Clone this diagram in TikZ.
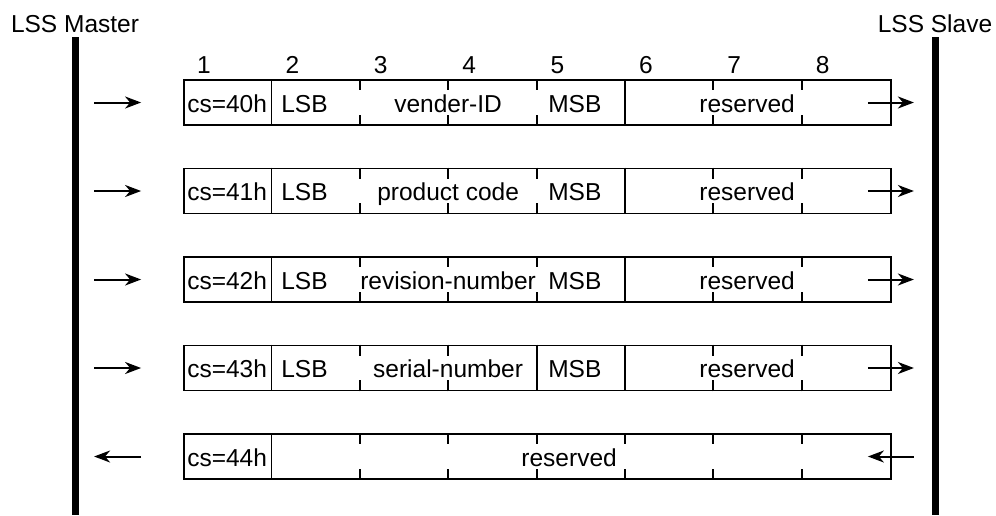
\documentclass[tikz,border=0pt]{standalone}
\usepackage{fontspec}
\setmainfont{Liberation Sans}
\usetikzlibrary{arrows.meta}

\begin{document}
\begin{tikzpicture}
    [
        x=1pt, y=-1pt,
        node distance=88.5pt,
        font=\fontsize{24.5}{29}\selectfont,
        frame/.style={
            draw, rectangle, line width=1.8pt,
            minimum width=707pt, minimum height=45pt, inner sep=0pt
        },
        field/.style={
            anchor=base, yshift=-9.5pt, inner sep=0pt
        },
        msg/.style={
            line width=2pt, -{Stealth[length=16pt, width=12pt, inset=5pt]}
        },
        sep/.style={line width=1.8pt},
        lifeline/.style={line width=7pt}
    ]
\useasboundingbox (0,0) rectangle (996,515);

% Lifelines
\node (master) [anchor=base, inner sep=0pt] at (75,32) {LSS Master};
\node (slave) [anchor=base, inner sep=0pt] at (935,32) {LSS Slave};
\coordinate (master-top) at (75,37);
\coordinate (master-bottom) at (75,515);
\coordinate (slave-top) at (935,37);
\coordinate (slave-bottom) at (935,515);
\draw[lifeline] (master-top) -- (master-bottom);
\draw[lifeline] (slave-top) -- (slave-bottom);

% Frames
\node (row1) [frame] at (537.5,102.5) {};
\node (row2) [frame, below of=row1] {};
\node (row3) [frame, below of=row2] {};
\node (row4) [frame, below of=row3] {};
\node (row5) [frame, below of=row4] {};

% Byte numbers
\foreach \i in {1,...,8}
    \node (byte\i) [anchor=base west, inner sep=0pt] at ({108.6+88.375*\i},73) {\i};

% Byte borders
\foreach \r in {1,2,3} {
    \foreach \k in {1,5}
        \draw[sep] ([xshift=\k*88.375pt]row\r.north west) -- ([xshift=\k*88.375pt]row\r.south west);
    \foreach \k in {2,3,4,6,7}
        \draw[sep] ([xshift=\k*88.375pt]row\r.north west) -- ++(0,11)
                   ([xshift=\k*88.375pt]row\r.south west) -- ++(0,-11);
}
\foreach \k in {1,4,5}
    \draw[sep] ([xshift=\k*88.375pt]row4.north west) -- ([xshift=\k*88.375pt]row4.south west);
\foreach \k in {2,3,6,7}
    \draw[sep] ([xshift=\k*88.375pt]row4.north west) -- ++(0,11)
               ([xshift=\k*88.375pt]row4.south west) -- ++(0,-11);
\draw[sep] ([xshift=88.375pt]row5.north west) -- ([xshift=88.375pt]row5.south west);
\foreach \k in {2,...,7}
    \draw[sep] ([xshift=\k*88.375pt]row5.north west) -- ++(0,11)
               ([xshift=\k*88.375pt]row5.south west) -- ++(0,-11);

% Fields
\node (cs1) [field, anchor=base west] at ([xshift=4pt]row1.west) {cs=40h};
\node (cs2) [field, anchor=base west] at ([xshift=4pt]row2.west) {cs=41h};
\node (cs3) [field, anchor=base west] at ([xshift=4pt]row3.west) {cs=42h};
\node (cs4) [field, anchor=base west] at ([xshift=4pt]row4.west) {cs=43h};
\node (cs5) [field, anchor=base west] at ([xshift=4pt]row5.west) {cs=44h};

\foreach \r in {1,...,4} {
    \node (lsb\r) [field, anchor=base west] at ([xshift=98pt]row\r.west) {LSB};
    \node (msb\r) [field, anchor=base west] at ([xshift=365pt]row\r.west) {MSB};
    \node (res\r) [field] at ([xshift=564pt]row\r.west) {reserved};
}
\node (vendor) [field] at ([xshift=265pt]row1.west) {vender-ID};
\node (product) [field] at ([xshift=265pt]row2.west) {product code};
\node (revision) [field] at ([xshift=265pt]row3.west) {revision-number};
\node (serial) [field] at ([xshift=265pt]row4.west) {serial-number};
\node (res5) [field] at ([xshift=386pt]row5.west) {reserved};

% Messages
\foreach \r in {1,...,4} {
    \draw[msg] ([xshift=-89pt]row\r.west) -- ([xshift=-42pt]row\r.west);
    \draw[msg] ([xshift=-24pt]row\r.east) -- ([xshift=22pt]row\r.east);
}
\draw[msg] ([xshift=-42pt]row5.west) -- ([xshift=-89pt]row5.west);
\draw[msg] ([xshift=22pt]row5.east) -- ([xshift=-24pt]row5.east);

\end{tikzpicture}
\end{document}
